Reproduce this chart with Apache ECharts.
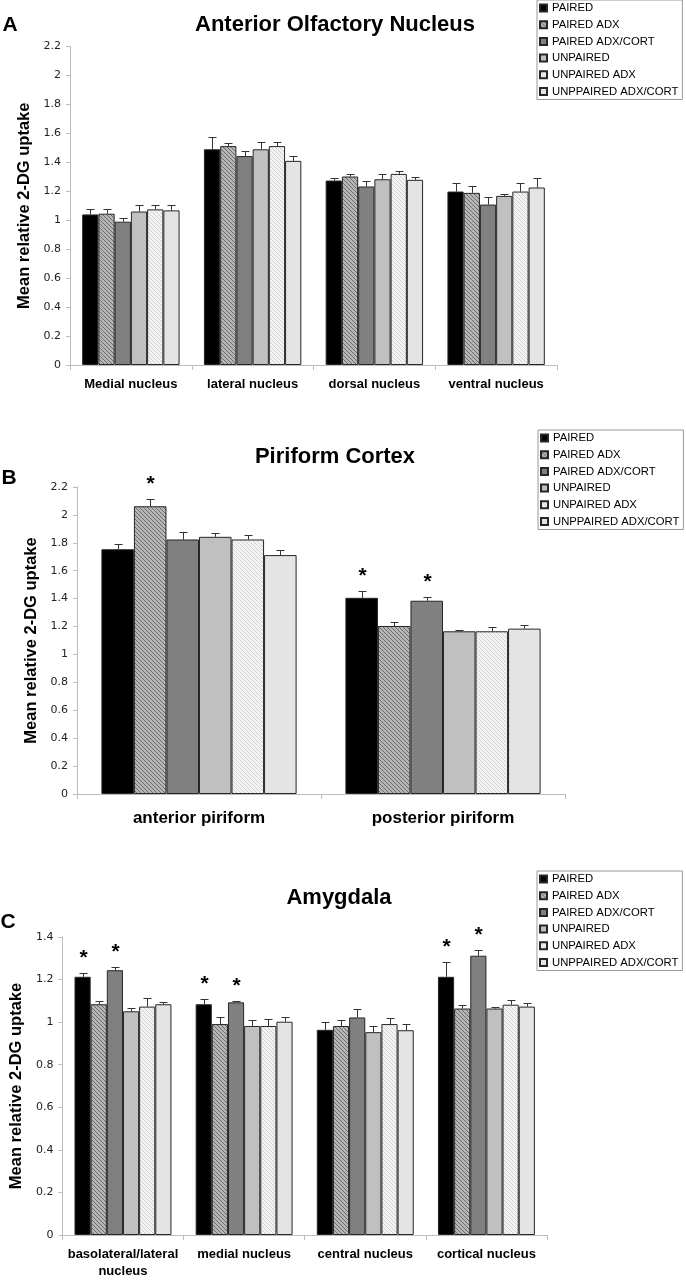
<!DOCTYPE html>
<html>
<head>
<meta charset="utf-8">
<title>Mean relative 2-DG uptake</title>
<script src="https://cdn.jsdelivr.net/npm/echarts@6.0.0/dist/echarts.min.js"></script>
<style>
    html, body { margin: 0; padding: 0; background: #fff; }
    #main { width: 686px; height: 1280px; }
</style>
</head>
<body>
<div id="main"></div>
<script>
// groups (legend order)
var groups = ['PAIRED', 'PAIRED ADX', 'PAIRED ADX/CORT', 'UNPAIRED', 'UNPAIRED ADX', 'UNPPAIRED ADX/CORT'];

// A - Anterior Olfactory Nucleus
var catsA = ['Medial nucleus', 'lateral nucleus', 'dorsal nucleus', 'ventral nucleus'];
var meanA = [
    [1.04, 1.49, 1.274, 1.198],
    [1.045, 1.512, 1.302, 1.189],
    [0.99, 1.443, 1.233, 1.108],
    [1.06, 1.49, 1.283, 1.168],
    [1.075, 1.512, 1.32, 1.198],
    [1.068, 1.41, 1.279, 1.226]
];
var semA = [
    [0.035, 0.085, 0.016, 0.06],
    [0.035, 0.02, 0.016, 0.044],
    [0.027, 0.037, 0.039, 0.051],
    [0.047, 0.052, 0.035, 0.014],
    [0.03, 0.03, 0.023, 0.06],
    [0.04, 0.034, 0.018, 0.069]
];
var starsA = [];   // [category, group]

// B - Piriform Cortex
var catsB = ['anterior piriform', 'posterior piriform'];
var meanB = [
    [1.754, 1.406],
    [2.062, 1.204],
    [1.824, 1.385],
    [1.843, 1.166],
    [1.824, 1.166],
    [1.712, 1.185]
];
var semB = [
    [0.041, 0.048],
    [0.055, 0.031],
    [0.054, 0.024],
    [0.028, 0.009],
    [0.031, 0.031],
    [0.04, 0.026]
];
var starsB = [[0, 1], [1, 0], [1, 2]];

// C - Amygdala
var catsC = ['basolateral/lateral\nnucleus', 'medial nucleus', 'central nucleus', 'cortical nucleus'];
var meanC = [
    [1.213, 1.084, 0.964, 1.213],
    [1.084, 0.991, 0.982, 1.064],
    [1.244, 1.093, 1.022, 1.312],
    [1.051, 0.982, 0.953, 1.064],
    [1.073, 0.982, 0.991, 1.082],
    [1.084, 1.002, 0.962, 1.073]
];
var semC = [
    [0.02, 0.026, 0.038, 0.071],
    [0.015, 0.034, 0.028, 0.018],
    [0.013, 0.005, 0.039, 0.029],
    [0.016, 0.029, 0.031, 0.008],
    [0.04, 0.031, 0.03, 0.02],
    [0.011, 0.02, 0.029, 0.019]
];
var starsC = [[0, 0], [0, 2], [1, 0], [1, 2], [3, 0], [3, 2]];

// y axis ticks
var yMaxA = 2.2, yMaxB = 2.2, yMaxC = 1.4, yStep = 0.2;

// 斜线填充
let hatch = (bg, fg) => {
    let cv = document.createElement('canvas');
    cv.width = 4;
    cv.height = 4;
    let ctx = cv.getContext('2d');
    ctx.fillStyle = bg;
    ctx.fillRect(0, 0, 4, 4);
    ctx.fillStyle = fg;
    for (let i = 0; i < 4; i++) ctx.fillRect(i, i, 1, 1);
    return { image: cv, repeat: 'repeat' };
}

var fills = ['#000000', hatch('#b6b6b6', '#6c6c6c'), '#808080', '#c0c0c0', hatch('#f3f3f3', '#d2d2d2'), '#e4e4e4'];
var FONT = '"Liberation Sans", Arial, sans-serif';

let barSeries = (gi, mean) => mean.map((row, s) => ({
    name: groups[s],
    type: 'bar',
    xAxisIndex: gi,
    yAxisIndex: gi,
    data: row,
    barGap: '0%',
    barCategoryGap: '20%',
    silent: true,
    itemStyle: { color: fills[s], borderColor: '#262626', borderWidth: 1 }
}));

// 误差线 + 星号
let errorSeries = (gi, mean, sem, stars) => {
    let data = [];
    mean.forEach((row, s) => row.forEach((v, c) => {
        let star = stars.some(p => p[0] == c && p[1] == s) ? 1 : 0;
        data.push([c, v, v + sem[s][c], s, star]);
    }));
    return {
        type: 'custom',
        name: 'err' + gi,
        xAxisIndex: gi,
        yAxisIndex: gi,
        z: 5,
        silent: true,
        data: data,
        renderItem: (params, api) => {
            let c = api.value(0);
            let base = api.coord([c, api.value(1)]);
            let top = api.coord([c, api.value(2)]);
            let cw = api.size([1, 0])[0];
            let bw = cw * 0.8 / groups.length;
            let x = Math.round(base[0] - cw * 0.4 + bw * (api.value(3) + 0.5)) + 0.5;
            let y = Math.round(top[1]) + 0.5;
            let children = [
                { type: 'line', shape: { x1: x, y1: base[1], x2: x, y2: y }, style: { stroke: '#333', lineWidth: 1 } },
                { type: 'line', shape: { x1: x - 4, y1: y, x2: x + 4, y2: y }, style: { stroke: '#333', lineWidth: 1 } }
            ];
            if (api.value(4)) {
                children.push({
                    type: 'text',
                    style: { text: '*', x: x, y: y - 15, align: 'center', verticalAlign: 'middle', font: 'bold 21px ' + FONT, fill: '#000' }
                });
            }
            return { type: 'group', children: children };
        }
    };
}

let xAxisOf = (gi, cats, size, margin) => ({
    type: 'category',
    gridIndex: gi,
    data: cats,
    axisLine: { show: true, lineStyle: { color: '#bdbdbd', width: 1 } },
    axisTick: { show: true, length: 5, lineStyle: { color: '#bdbdbd' } },
    axisLabel: { interval: 0, color: '#000', fontWeight: 'bold', fontSize: size, fontFamily: FONT, margin: margin, lineHeight: 17 },
    splitLine: { show: false }
});

let yAxisOf = (gi, max) => ({
    type: 'value',
    gridIndex: gi,
    min: 0,
    max: max,
    interval: yStep,
    name: 'Mean relative 2-DG uptake',
    nameLocation: 'middle',
    nameGap: 35,
    nameRotate: 90,
    nameTextStyle: { fontWeight: 'bold', fontSize: 16.5, fontFamily: FONT, color: '#000' },
    axisLine: { show: true, lineStyle: { color: '#bdbdbd', width: 1 } },
    axisTick: { show: true, length: 4, lineStyle: { color: '#bdbdbd' } },
    axisLabel: { color: '#222', fontSize: 11, fontFamily: '"DejaVu Sans", sans-serif', margin: 9 },
    splitLine: { show: false }
});

let legendOf = (left, top) => ({
    orient: 'vertical',
    left: left,
    top: top,
    data: groups,
    selectedMode: false,
    icon: 'rect',
    itemWidth: 7,
    itemHeight: 7,
    itemGap: 4.7,
    padding: [2, 4, 2, 2],
    borderColor: '#999',
    borderWidth: 1,
    textStyle: { fontSize: 11.3, fontFamily: FONT, color: '#000', lineHeight: 12 }
});

let textOf = (text, x, y, size) => ({
    type: 'text',
    x: x,
    y: y,
    style: { text: text, font: 'bold ' + size + 'px ' + FONT, fill: '#000', align: 'center', verticalAlign: 'middle' }
});

let chart = echarts.init(document.getElementById('main'));

let option = {
    backgroundColor: '#fff',
    animation: false,
    grid: [
        { left: 70, top: 46.5, width: 487, height: 318.5 },
        { left: 77, top: 487, width: 488, height: 307 },
        { left: 59, top: 937, width: 488, height: 303 }
    ],
    xAxis: [
        xAxisOf(0, catsA, 13, 11),
        xAxisOf(1, catsB, 17, 16),
        xAxisOf(2, catsC, 13, 11)
    ],
    yAxis: [
        yAxisOf(0, yMaxA),
        yAxisOf(1, yMaxB),
        yAxisOf(2, yMaxC)
    ],
    legend: [
        legendOf(537, 0),
        legendOf(538, 430),
        legendOf(537, 871)
    ],
    graphic: [
        textOf('Anterior Olfactory Nucleus', 335, 25, 22),
        textOf('A', 10, 25, 21),
        textOf('Piriform Cortex', 335, 457, 22),
        textOf('B', 9, 478, 21),
        textOf('Amygdala', 339, 898, 22),
        textOf('C', 8, 922, 21)
    ],
    series: [].concat(
        barSeries(0, meanA), [errorSeries(0, meanA, semA, starsA)],
        barSeries(1, meanB), [errorSeries(1, meanB, semB, starsB)],
        barSeries(2, meanC), [errorSeries(2, meanC, semC, starsC)]
    )
};

chart.setOption(option);
</script>
</body>
</html>
